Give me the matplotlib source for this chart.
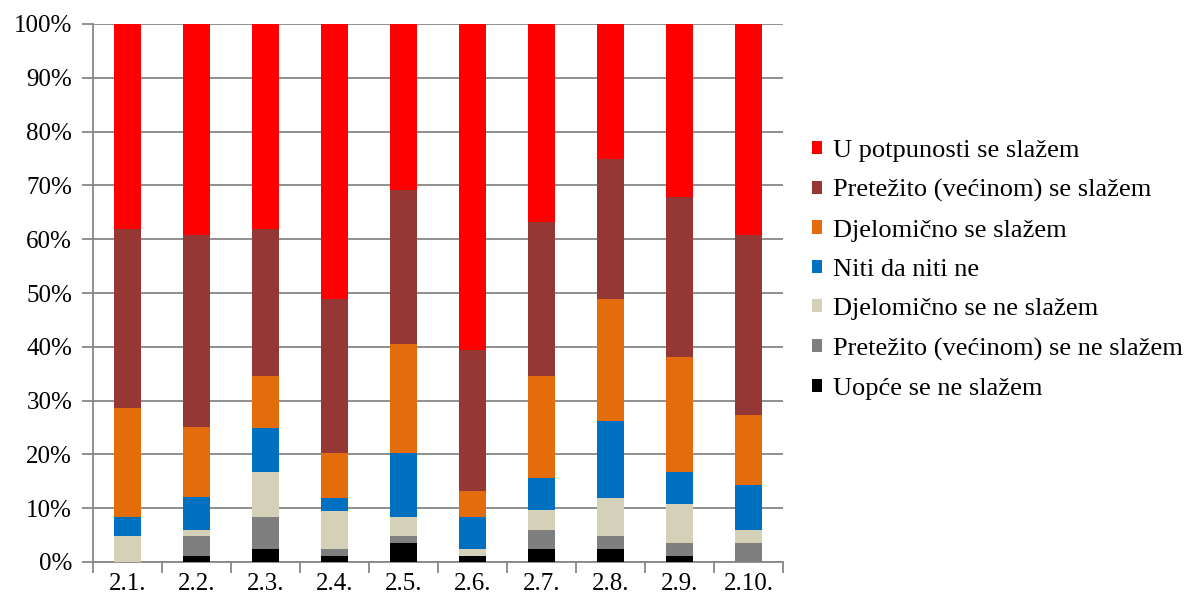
import numpy as np
import matplotlib
matplotlib.use("Agg")
import matplotlib.pyplot as plt
from matplotlib.patches import Patch

plt.rcParams['font.family'] = ['Liberation Serif', 'DejaVu Serif']

# Pitanja
kategorije = ["2.1.", "2.2.", "2.3.", "2.4.", "2.5.", "2.6.", "2.7.", "2.8.", "2.9.", "2.10."]

# Postoci po odgovoru (od dna prema vrhu)
uopce_ne = [0.0, 1.2, 2.4, 1.2, 3.6, 1.2, 2.4, 2.4, 1.2, 0.0]
pretezito_ne = [0.0, 3.6, 6.0, 1.2, 1.2, 0.0, 3.6, 2.4, 2.4, 3.6]
djelomicno_ne = [4.8, 1.2, 8.3, 7.1, 3.6, 1.2, 3.6, 7.1, 7.1, 2.4]
niti_niti = [3.6, 6.0, 8.3, 2.4, 11.9, 6.0, 6.0, 14.3, 6.0, 8.3]
djelomicno = [20.2, 13.1, 9.5, 8.3, 20.2, 4.8, 19.0, 22.6, 21.4, 13.1]
pretezito = [33.3, 35.6, 27.4, 28.6, 28.6, 26.2, 28.6, 26.2, 29.8, 33.3]
potpuno = [38.1, 39.3, 38.1, 51.2, 31.0, 60.7, 36.9, 25.0, 32.1, 39.3]

serije = [uopce_ne, pretezito_ne, djelomicno_ne, niti_niti, djelomicno, pretezito, potpuno]
nazivi = ["Uopće se ne slažem", "Pretežito (većinom) se ne slažem", "Djelomično se ne slažem",
          "Niti da niti ne", "Djelomično se slažem", "Pretežito (većinom) se slažem",
          "U potpunosti se slažem"]
boje = ["#000000", "#7F7F7F", "#D5D1B8", "#0070C0", "#E46C0A", "#953735", "#FF0000"]

fig = plt.figure(figsize=(11.87, 6.03), dpi=100)
ax = fig.add_axes([93/1187, 41/603, 690/1187, 538/603])

x = np.arange(len(kategorije))
dno = np.zeros(len(kategorije))
for vrijednosti, boja in zip(serije, boje):
    v = np.array(vrijednosti)
    ax.bar(x, v, bottom=dno, width=0.4, color=boja, zorder=3)
    dno += v

ax.set_xlim(-0.5, len(kategorije) - 0.5)
ax.set_ylim(0, 100)
ax.set_yticks(np.arange(0, 101, 10))
ax.set_yticklabels([f"{t}%" for t in range(0, 101, 10)], fontsize=18)
ax.set_xticks(x)
ax.set_xticklabels(kategorije, fontsize=18)
ax.set_xticks(np.arange(-0.5, len(kategorije)), minor=True)
ax.tick_params(axis='x', which='major', length=0, pad=8)
ax.tick_params(axis='x', which='minor', length=8, color='#878787', width=1.3)
ax.tick_params(axis='y', length=8, color='#878787', width=1.3, pad=7)

ax.grid(axis='y', color='#878787', linewidth=1.3, zorder=0)
for s in ['top', 'right']:
    ax.spines[s].set_visible(False)
for s in ['left', 'bottom']:
    ax.spines[s].set_color('#878787')
    ax.spines[s].set_linewidth(1.3)

rucke = [Patch(facecolor=b, label=n) for b, n in zip(boje, nazivi)][::-1]
fig.legend(handles=rucke, loc='center left', bbox_to_anchor=(801/1187, 0.5525), frameon=False,
           fontsize=19, handlelength=0.4, handleheight=0.4, handletextpad=0.4,
           labelspacing=0.655, borderaxespad=0)

fig.savefig("out.png", dpi=100)
